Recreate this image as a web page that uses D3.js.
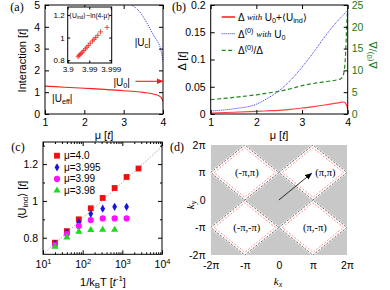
<!DOCTYPE html>
<html>
<head>
<meta charset="utf-8">
<script src="https://cdn.jsdelivr.net/npm/d3@7"></script>
<style>
  body { margin: 0; background: #fff; overflow: hidden; }
  svg { font-family: "Liberation Sans", Arial, sans-serif; font-size: 10.5px; }
  svg .serif { font-family: "Liberation Serif", "Times New Roman", serif; }
</style>
</head>
<body>
<script>
// ---- (a) interactions vs mu ----
var muA = [1, 1.5, 2, 2.5, 3, 3.5, 3.75, 3.9, 3.95, 3.98, 4];
var uEff = [1.28, 1.23, 1.18, 1.13, 1.07, 0.99, 0.92, 0.83, 0.76, 0.67, 0.56];
var muC = [3.2, 3.3, 3.4, 3.5, 3.6, 3.7, 3.8, 3.9, 3.95, 3.98, 4];
var uC = [5, 4.88, 4.7, 4.45, 4.15, 3.8, 3.5, 3.2, 2.9, 2.65, 2.4];
var u0 = 1.5;
// inset: 4-mu and <U_ind>
var insetDmu = [0.033, 0.030, 0.027, 0.024, 0.021, 0.018, 0.015, 0.013, 0.011, 0.009, 0.007, 0.006, 0.005, 0.004, 0.003, 0.0015];
var insetU = [0.83, 0.84, 0.85, 0.86, 0.87, 0.885, 0.9, 0.915, 0.93, 0.95, 0.97, 0.985, 1.0, 1.02, 1.05, 1.09];
var insetTicks = [0.1, 0.01, 0.001];
var insetTickLabels = ["3.9", "3.99", "3.999"];

// ---- (b) gaps ----
var muB = [1, 1.5, 2, 2.25, 2.5, 2.75, 3, 3.25, 3.5, 3.75, 3.85, 3.9, 3.93, 3.95, 3.97, 3.99, 4];
var gapFull = [0.0018, 0.0032, 0.0049, 0.0058, 0.0068, 0.0085, 0.011, 0.0135, 0.0165, 0.02, 0.0215, 0.022, 0.0215, 0.02, 0.017, 0.012, 0.008];
var gapBare = [0.0055, 0.0095, 0.018, 0.029, 0.043, 0.062, 0.086, 0.113, 0.142, 0.168, 0.177, 0.181, 0.184, 0.186, 0.188, 0.19, 0.19];
var gapRatio = [3.3, 3.8, 4.4, 4.8, 5.2, 5.8, 6.5, 7.0, 7.4, 7.8, 8.1, 8.8, 10.5, 13, 18, 22.5, 24];

// ---- (c) <U_ind> vs 1/kT ----
var invT = [20, 40, 80, 160, 320, 640, 1280, 2560];
var uInd40 = [0.773, 0.836, 0.90, 0.96, 1.016, 1.07, 1.13, 1.176];
var uInd3995 = [0.766, 0.827, 0.884, 0.93, 0.958, 0.968, 0.968];
var uInd399 = [0.76, 0.82, 0.864, 0.896, 0.905, 0.905, 0.905];
var uInd398 = [0.751, 0.802, 0.833, 0.842, 0.843, 0.843];
var fitT = [10, 10000];
var fitU = [0.711, 1.295];
var legendC = ["\u03bc=4.0", "\u03bc=3.995", "\u03bc=3.99", "\u03bc=3.98"];

// ---- (d) Brillouin zone ----
var PI = Math.PI;
var pockets = [[-PI, PI], [PI, PI], [-PI, -PI], [PI, -PI]];
var pocketLabels = ["(-\u03c0,\u03c0)", "(\u03c0,\u03c0)", "(-\u03c0,-\u03c0)", "(\u03c0,-\u03c0)"];
var piTicks = [-2 * PI, -PI, 0, PI, 2 * PI];
var piLabels = ["-2\u03c0", "-\u03c0", "0", "\u03c0", "2\u03c0"];
var nestVec = [PI, PI];

var svg = d3.select("body").append("svg").attr("width", 390).attr("height", 290);
var num = d3.format("");

var defs = svg.append("defs");
function arrowHead(id, col) {
    defs.append("marker").attr("id", id)
        .attr("viewBox", "0 0 10 10").attr("refX", 9).attr("refY", 5)
        .attr("markerWidth", 7).attr("markerHeight", 7).attr("orient", "auto")
        .attr("markerUnits", "userSpaceOnUse")
        .append("path").attr("d", "M0,1L10,5L0,9Z").attr("fill", col);
}
arrowHead("ahRed", "#f02020");
arrowHead("ahBlack", "#000");

// text with sub/superscripts: parts = [[str, "sub"|"sup"|"it"|"serif"...], ...]
function rich(t, parts, fs) {
    fs = fs || 10.5;
    t.attr("font-size", fs);
    var shift = 0;
    parts.forEach(function (p) {
        var s = p[1] || "";
        var want = s.indexOf("sub") >= 0 ? fs * 0.3 : (s.indexOf("sup") >= 0 ? -fs * 0.38 : 0);
        var ts = t.append("tspan").text(p[0]).attr("dy", want - shift);
        shift = want;
        if (want) ts.attr("font-size", fs * 0.72);
        if (s.indexOf("it") >= 0) ts.attr("font-style", "italic");
        if (s.indexOf("serif") >= 0) ts.attr("class", "serif");
        if (s.indexOf("small") >= 0) ts.attr("font-size", fs * 0.88);
    });
    return t;
}

// strip the font attributes that d3.axis puts on its group
function plainAxis(sel) {
    sel.attr("font-family", null).attr("font-size", null);
    sel.selectAll(".domain").remove();
    return sel;
}

// boxed axes with inward mirrored ticks
function box(x, y, xt, yt, o) {
    o = o || {};
    var r = x.range(), ry = y.range();
    var g = svg.append("g");
    var tl = o.tick || 4;
    var bot = d3.axisBottom(x).tickValues(xt).tickSizeInner(-tl).tickSizeOuter(0).tickPadding(o.xpad || 5)
        .tickFormat(o.xfmt || num);
    var left = d3.axisLeft(y).tickValues(yt).tickSizeInner(-tl).tickSizeOuter(0).tickPadding(o.ypad || 5)
        .tickFormat(o.yfmt || num);
    var gb = g.append("g").attr("transform", "translate(0," + ry[0] + ")").call(bot);
    g.append("g").attr("transform", "translate(0," + ry[1] + ")")
        .call(d3.axisTop(x).tickValues(xt).tickSizeInner(-tl).tickSizeOuter(0).tickFormat(""));
    g.append("g").attr("transform", "translate(" + r[0] + ",0)").call(left);
    if (!o.noRight)
        g.append("g").attr("transform", "translate(" + r[1] + ",0)")
            .call(d3.axisRight(y).tickValues(yt).tickSizeInner(-tl).tickSizeOuter(0).tickFormat(""));
    if (o.minorX) {
        g.append("g").attr("transform", "translate(0," + ry[0] + ")")
            .call(d3.axisBottom(x).tickValues(o.minorX).tickSizeInner(-tl / 2).tickSizeOuter(0).tickFormat(""));
        g.append("g").attr("transform", "translate(0," + ry[1] + ")")
            .call(d3.axisTop(x).tickValues(o.minorX).tickSizeInner(-tl / 2).tickSizeOuter(0).tickFormat(""));
    }
    if (o.minorY) {
        g.append("g").attr("transform", "translate(" + r[0] + ",0)")
            .call(d3.axisLeft(y).tickValues(o.minorY).tickSizeInner(-tl / 2).tickSizeOuter(0).tickFormat(""));
        g.append("g").attr("transform", "translate(" + r[1] + ",0)")
            .call(d3.axisRight(y).tickValues(o.minorY).tickSizeInner(-tl / 2).tickSizeOuter(0).tickFormat(""));
    }
    plainAxis(g.selectAll("g"));
    if (o.fs) g.selectAll(".tick text").attr("font-size", o.fs);
    g.append("rect").attr("x", r[0]).attr("y", ry[1]).attr("width", r[1] - r[0]).attr("height", ry[0] - ry[1])
        .attr("fill", "none").attr("stroke", "#000").attr("stroke-width", 1);
    return { g: g, bottom: gb };
}

function panelLabel(s, x, y) {
    svg.append("text").attr("class", "serif").attr("x", x).attr("y", y)
        .attr("text-anchor", "middle").attr("dominant-baseline", "central")
        .attr("font-size", 12).text(s);
}

function clipRect(id, x, y) {
    svg.append("clipPath").attr("id", id).append("rect")
        .attr("x", x.range()[0]).attr("y", y.range()[1])
        .attr("width", x.range()[1] - x.range()[0]).attr("height", y.range()[0] - y.range()[1]);
}

// ================= (a) =================
var xa = d3.scaleLinear().domain([1, 4]).range([45, 163]);
var ya = d3.scaleLinear().domain([0, 5]).range([114, 5]);
clipRect("clipA", xa, ya);
var gA = svg.append("g").attr("clip-path", "url(#clipA)");
gA.append("path").datum(d3.range(muA.length))
    .attr("d", d3.line().x(function (i) { return xa(muA[i]); }).y(function (i) { return ya(uEff[i]); }).curve(d3.curveMonotoneX))
    .attr("fill", "none").attr("stroke", "#f52020").attr("stroke-width", 1.1);
gA.append("path").datum(d3.range(muC.length))
    .attr("d", d3.line().x(function (i) { return xa(muC[i]); }).y(function (i) { return ya(uC[i]); }).curve(d3.curveMonotoneY))
    .attr("fill", "none").attr("stroke", "#2020ff").attr("stroke-width", 1).attr("stroke-dasharray", "1,1.2");
box(xa, ya, [1, 2, 3, 4], [0, 1, 2, 3, 4, 5]);
svg.append("line").attr("x1", xa(3.3)).attr("x2", xa(4)).attr("y1", ya(u0)).attr("y2", ya(u0))
    .attr("stroke", "#f02020").attr("stroke-width", 1.1).attr("marker-end", "url(#ahRed)");
rich(svg.append("text").attr("x", xa(3.28)).attr("y", ya(3.3)).attr("dominant-baseline", "central"),
    [["|U"], ["c", "sub"], ["|"]], 10);
rich(svg.append("text").attr("x", xa(2.74)).attr("y", ya(1.47)).attr("dominant-baseline", "central"),
    [["|U"], ["0", "sub"], ["|"]], 10);
rich(svg.append("text").attr("x", xa(1.18)).attr("y", ya(0.73)).attr("dominant-baseline", "central"),
    [["|U"], ["eff", "sub"], ["|"]], 10);
rich(svg.append("text").attr("transform", "translate(22," + ya(2.45) + ") rotate(-90)")
    .attr("text-anchor", "middle").attr("dominant-baseline", "central"),
    [["Interaction ["], ["t", "it"], ["]"]], 11);
rich(svg.append("text").attr("x", 104).attr("y", 135).attr("text-anchor", "middle")
    .attr("dominant-baseline", "central"),
    [["\u03bc ["], ["t", "it"], ["]"]], 11);
panelLabel("(a)", 17, 7);

// inset
var xi = d3.scaleLog().domain([0.1, 0.00091]).range([67.7, 111.7]);
var yi = d3.scaleLinear().domain([0.775, 1.27]).range([63, 7]);
svg.append("rect").attr("x", 67.7).attr("y", 7).attr("width", 44).attr("height", 56).attr("fill", "#fff");
box(xi, yi, insetTicks, [0.8, 1, 1.2], {
    tick: 2.5, fs: 8, xpad: 3, ypad: 3,
    xfmt: function (d, i) { return insetTickLabels[i]; }
});
svg.append("g").selectAll("path").data(insetDmu).enter().append("path")
    .attr("transform", function (d, i) { return "translate(" + xi(d) + "," + yi(insetU[i]) + ")"; })
    .attr("d", "M-2.5,0H2.5M0,-2.5V2.5").attr("stroke", "#f52020").attr("stroke-width", 0.8);
rich(svg.append("text").attr("x", 69).attr("y", 15).attr("dominant-baseline", "central"),
    [["\u27e8U"], ["ind", "sub"], ["\u27e9~ln(4-\u03bc)"]], 6.7);

// ================= (b) =================
var xb = d3.scaleLinear().domain([1, 4]).range([210.7, 347.7]);
var yb = d3.scaleLinear().domain([0, 0.2]).range([114, 5]);
var yr = d3.scaleLinear().domain([0, 25]).range([114, 5]);
clipRect("clipB", xb, yb);
var gB = svg.append("g").attr("clip-path", "url(#clipB)");
function lineB(vals, sc) {
    return d3.line().x(function (i) { return xb(muB[i]); }).y(function (i) { return sc(vals[i]); }).curve(d3.curveMonotoneX)(d3.range(muB.length));
}
gB.append("path").attr("d", lineB(gapRatio, yr)).attr("fill", "none")
    .attr("stroke", "#1f8a1f").attr("stroke-width", 1.2).attr("stroke-dasharray", "4,2.5");
gB.append("path").attr("d", lineB(gapBare, yb)).attr("fill", "none")
    .attr("stroke", "#3030ff").attr("stroke-width", 1).attr("stroke-dasharray", "1,1");
gB.append("path").attr("d", lineB(gapFull, yb)).attr("fill", "none")
    .attr("stroke", "#ff4040").attr("stroke-width", 1.2);
box(xb, yb, [1, 2, 3, 4], [0, 0.05, 0.1, 0.15, 0.2], { noRight: true });
var gR = svg.append("g").attr("transform", "translate(347.7,0)")
    .call(d3.axisRight(yr).tickValues([0, 5, 10, 15, 20, 25]).tickSizeInner(-4).tickSizeOuter(0).tickPadding(4).tickFormat(num));
plainAxis(gR);
gR.selectAll(".tick text").attr("fill", "#1a7a1a");
rich(svg.append("text").attr("transform", "translate(373,55) rotate(-90)")
    .attr("text-anchor", "middle").attr("dominant-baseline", "central").attr("fill", "#1a7a1a"),
    [["\u0394"], ["(0)", "sup"], ["/\u0394"]], 11);
rich(svg.append("text").attr("transform", "translate(182,61) rotate(-90)")
    .attr("text-anchor", "middle").attr("dominant-baseline", "central"),
    [["\u0394 ["], ["t", "it"], ["]"]], 11);
rich(svg.append("text").attr("x", 279).attr("y", 135).attr("text-anchor", "middle")
    .attr("dominant-baseline", "central"),
    [["\u03bc ["], ["t", "it"], ["]"]], 11);
panelLabel("(b)", 179, 7);

// legend (b)
var legB = [
    { col: "#ff5050", dash: null, w: 2, parts: [["\u0394 "], ["with", "it serif small"], [" U"], ["0", "sub"], ["+\u27e8U"], ["ind", "sub"], ["\u27e9"]] },
    { col: "#3030ff", dash: "1,1", w: 1, parts: [["\u0394"], ["(0)", "sup"], [" "], ["with", "it serif small"], [" U"], ["0", "sub"]] },
    { col: "#1f8a1f", dash: "4,2.5", w: 1.2, parts: [["\u0394"], ["(0)", "sup"], ["/\u0394"]] }
];
legB.forEach(function (L, i) {
    var yy = 17 + i * 16.7;
    svg.append("line").attr("x1", 221.7).attr("x2", 235).attr("y1", yy).attr("y2", yy)
        .attr("stroke", L.col).attr("stroke-width", L.w).attr("stroke-dasharray", L.dash);
    rich(svg.append("text").attr("x", 238).attr("y", yy).attr("dominant-baseline", "central"), L.parts, 10);
});

// ================= (c) =================
var xc = d3.scaleLog().domain([10, 10000]).range([43, 162]);
var yc = d3.scaleLinear().domain([0.71, 1.32]).range([254.3, 142]);
var minorC = [];
[10, 100, 1000].forEach(function (b) { for (var k = 2; k <= 9; k++) minorC.push(b * k); });
clipRect("clipC", xc, yc);
svg.append("path").attr("clip-path", "url(#clipC)")
    .attr("d", d3.line().x(function (i) { return xc(fitT[i]); }).y(function (i) { return yc(fitU[i]); })([0, 1]))
    .attr("stroke", "#999").attr("stroke-width", 0.8).attr("stroke-dasharray", "1.5,1.5").attr("fill", "none");
var bc = box(xc, yc, [10, 100, 1000, 10000], [0.8, 1, 1.2], {
    xpad: 6, minorX: minorC, minorY: [0.9, 1.1, 1.3]
});
bc.bottom.selectAll(".tick text").each(function (d) {
    var t = d3.select(this);
    t.text("10");
    t.append("tspan").attr("dy", -4).attr("font-size", 7.5).text(Math.round(Math.log10(d)));
});
var seriesC = [
    { u: uInd40, col: "#f01010", sym: d3.symbolSquare, size: 34 },
    { u: uInd3995, col: "#1414e6", sym: d3.symbolDiamond, size: 20 },
    { u: uInd399, col: "#ff10ff", sym: d3.symbolCircle, size: 30 },
    { u: uInd398, col: "#18dd18", sym: d3.symbolTriangle, size: 22 }
];
seriesC.forEach(function (s, k) {
    var sym = d3.symbol().type(s.sym).size(s.size);
    svg.append("g").selectAll("path").data(s.u).enter().append("path")
        .attr("transform", function (d, i) { return "translate(" + xc(invT[i]) + "," + yc(d) + ")"; })
        .attr("d", sym).attr("fill", s.col);
    var yy = 155.7 + k * 11.6;
    svg.append("path").attr("transform", "translate(57," + yy + ")").attr("d", sym).attr("fill", s.col);
    svg.append("text").attr("x", 64).attr("y", yy).attr("dominant-baseline", "central").attr("font-size", 10).text(legendC[k]);
});
rich(svg.append("text").attr("transform", "translate(22,200) rotate(-90)")
    .attr("text-anchor", "middle").attr("dominant-baseline", "central"),
    [["\u27e8U"], ["ind", "sub"], ["\u27e9 ["], ["t", "it"], ["]"]], 11);
rich(svg.append("text").attr("x", 103).attr("y", 282).attr("text-anchor", "middle")
    .attr("dominant-baseline", "central"),
    [["1/k"], ["B", "sub"], ["T ["], ["t", "it"], ["-1", "sup"], ["]"]], 11);
panelLabel("(c)", 18, 147);

// ================= (d) =================
var xd = d3.scaleLinear().domain([-2 * PI, 2 * PI]).range([210.7, 347]);
var yd = d3.scaleLinear().domain([-2 * PI, 2 * PI]).range([255, 145]);
clipRect("clipD", xd, yd);
var gD = svg.append("g").attr("clip-path", "url(#clipD)");
gD.append("rect").attr("x", 210.7).attr("y", 145).attr("width", 347 - 210.7).attr("height", 110).attr("fill", "#c8c8c8");
function diamond(c, s) {
    var h = PI * s;
    return "M" + xd(c[0] - h) + "," + yd(c[1]) + "L" + xd(c[0]) + "," + yd(c[1] + h) +
        "L" + xd(c[0] + h) + "," + yd(c[1]) + "L" + xd(c[0]) + "," + yd(c[1] - h) + "Z";
}
pockets.forEach(function (c) {
    gD.append("path").attr("d", diamond(c, 1.05)).attr("fill", "#ececec");
});
pockets.forEach(function (c) {
    gD.append("path").attr("d", diamond(c, 1.0)).attr("fill", "#fff");
});
pockets.forEach(function (c) {
    gD.append("path").attr("d", diamond(c, 1.0)).attr("fill", "none")
        .attr("stroke", "#555").attr("stroke-width", 0.9).attr("stroke-dasharray", "2,1.5");
    gD.append("path").attr("d", diamond(c, 0.9)).attr("fill", "none")
        .attr("stroke", "#ff7070").attr("stroke-width", 0.8).attr("stroke-dasharray", "2,1.5");
});
pockets.forEach(function (c, i) {
    var t = svg.append("text").attr("class", "serif").attr("font-size", 10.5)
        .attr("dominant-baseline", "central").attr("y", yd(c[1])).text(pocketLabels[i]);
    if (i === 1) t.attr("x", xd(c[0] + 0.07 * PI)).attr("text-anchor", "start");
    else t.attr("x", xd(c[0]) + 2).attr("text-anchor", "middle");
});
svg.append("line").attr("x1", xd(0)).attr("y1", yd(0))
    .attr("x2", xd(nestVec[0] * 0.96)).attr("y2", yd(nestVec[1] * 0.97))
    .attr("stroke", "#000").attr("stroke-width", 0.8).attr("marker-end", "url(#ahBlack)");
var gdx = svg.append("g").attr("transform", "translate(0,255)")
    .call(d3.axisBottom(xd).tickValues(piTicks).tickSize(0).tickPadding(7).tickFormat(function (d, i) { return piLabels[i]; }));
var gdy = svg.append("g").attr("transform", "translate(210.7,0)")
    .call(d3.axisLeft(yd).tickValues(piTicks).tickSize(0).tickPadding(5).tickFormat(function (d, i) { return piLabels[i]; }));
plainAxis(gdx);
plainAxis(gdy);
rich(svg.append("text").attr("class", "serif").attr("x", 278).attr("y", 281).attr("text-anchor", "middle")
    .attr("dominant-baseline", "central"),
    [["k", "it"], ["x", "sub it"]], 11);
rich(svg.append("text").attr("class", "serif").attr("transform", "translate(190,205) rotate(-90)")
    .attr("text-anchor", "middle").attr("dominant-baseline", "central"),
    [["k", "it"], ["y", "sub it"]], 11);
panelLabel("(d)", 177, 147);
</script>
</body>
</html>
